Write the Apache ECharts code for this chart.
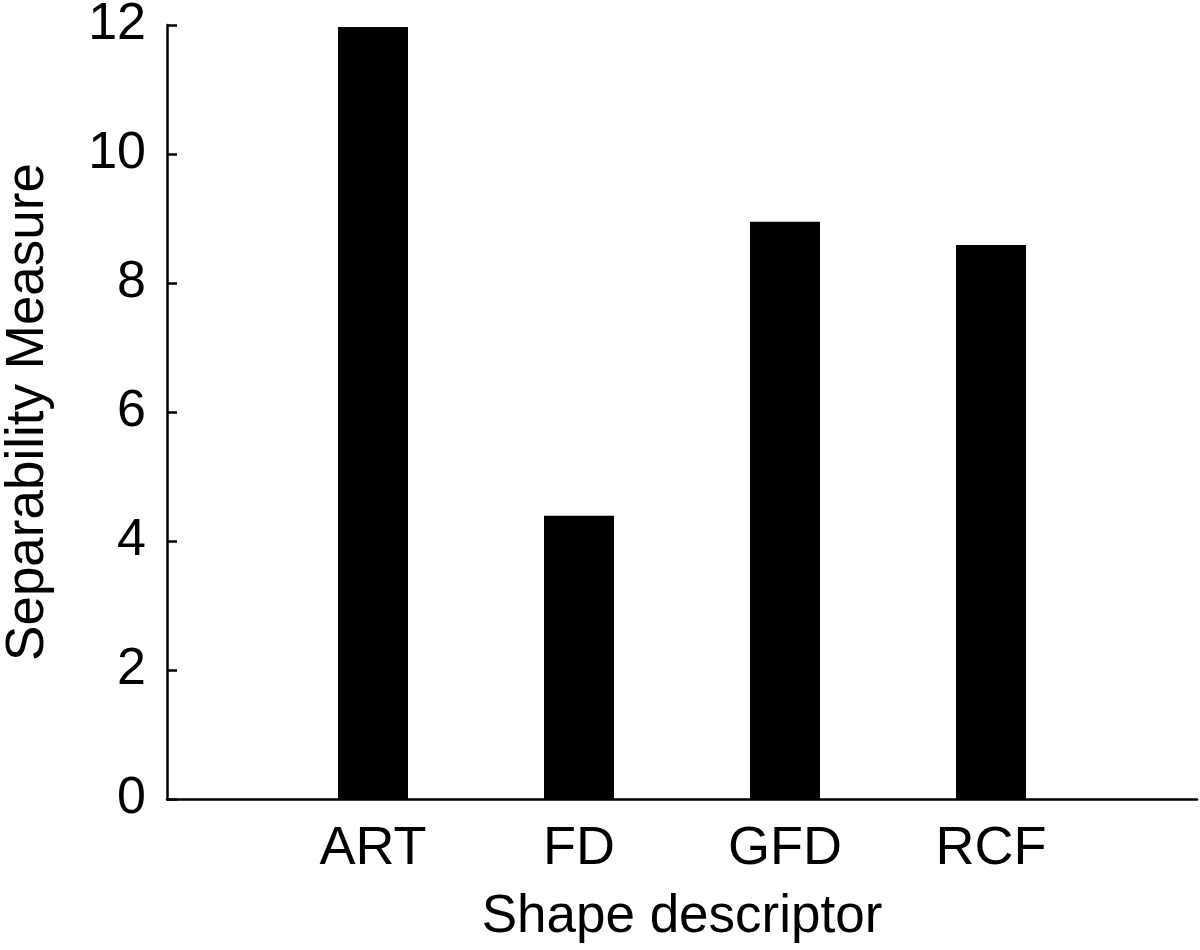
<!DOCTYPE html>
<html>
<head>
<meta charset="utf-8">
<script src="https://cdn.jsdelivr.net/npm/echarts@6/dist/echarts.min.js"></script>
<style>
  html, body { margin: 0; padding: 0; background: #fff; }
  #chart { width: 1200px; height: 950px; }
</style>
</head>
<body>
<div id="chart"></div>
<script>
// empty slots at both ends so the bars sit at 1..4 on a 0..5 axis
const categories = ['', 'ART', 'FD', 'GFD', 'RCF', ''];
const separability = [null, 11.97, 4.39, 8.95, 8.59, null];
const yTicks = { min: 0, max: 12, interval: 2 };

const font = '"Liberation Sans", Arial, Helvetica, sans-serif';

const chart = echarts.init(document.getElementById('chart'));
chart.setOption({
    backgroundColor: '#fff',
    animation: false,
    grid: { left: 167, right: 3, top: 25, bottom: 151, containLabel: false, outerBoundsMode: 'none' },
    xAxis: {
        type: 'category',
        data: categories,
        boundaryGap: false,
        name: 'Shape descriptor',
        nameLocation: 'middle',
        nameGap: 92,
        nameTextStyle: { fontSize: 53, color: '#000', fontFamily: font },
        axisLine: { lineStyle: { color: '#000', width: 2.5 } },
        axisTick: { show: false },
        axisLabel: { fontSize: 54, color: '#000', fontFamily: font, margin: 23, interval: 0 },
        splitLine: { show: false }
    },
    yAxis: {
        type: 'value',
        min: yTicks.min,
        max: yTicks.max,
        interval: yTicks.interval,
        name: 'Separability Measure',
        nameLocation: 'middle',
        nameGap: 112,
        nameTextStyle: { fontSize: 53, color: '#000', fontFamily: font },
        axisLine: { show: true, lineStyle: { color: '#000', width: 2.5 } },
        axisTick: { show: true, inside: true, length: 10, lineStyle: { color: '#000', width: 2.5 } },
        axisLabel: { fontSize: 52, color: '#000', fontFamily: font, margin: 21 },
        splitLine: { show: false }
    },
    series: [{
        type: 'bar',
        data: separability,
        barWidth: 70,
        itemStyle: { color: '#000' }
    }]
});
</script>
</body>
</html>
